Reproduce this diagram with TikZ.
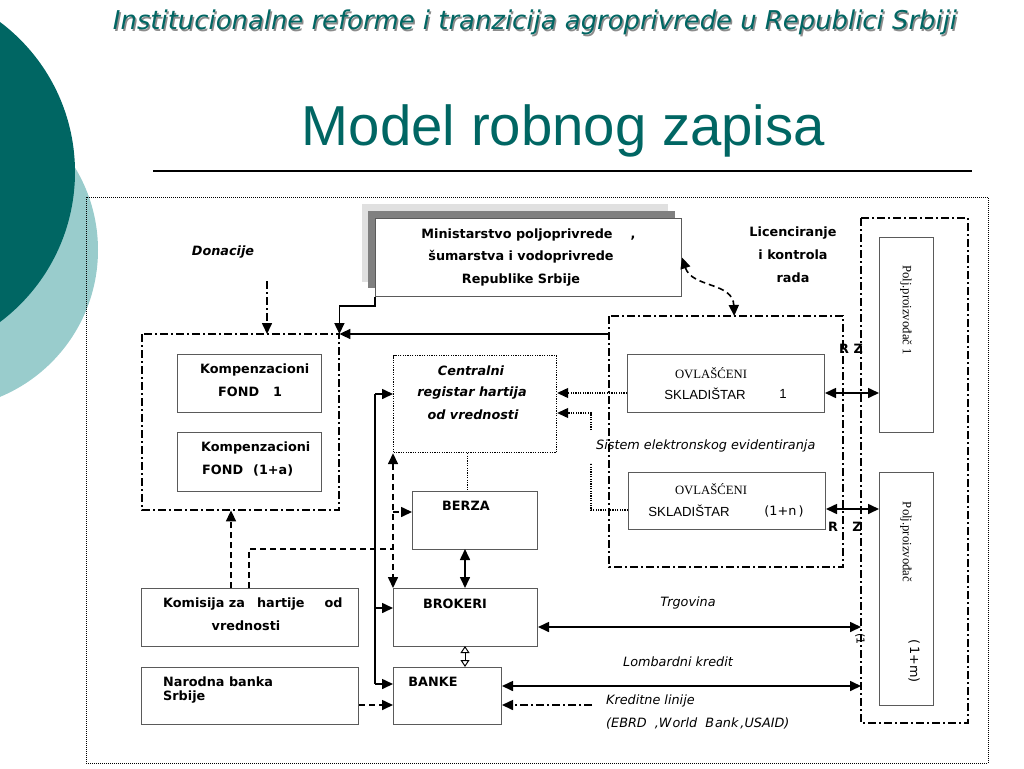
\documentclass[tikz,border=0pt]{standalone}
\usepackage{fontspec}
\setmainfont{DejaVu Sans}
\newfontfamily\serifF{Liberation Serif}
\newfontfamily\arialF{Liberation Sans}
\usetikzlibrary{arrows.meta,calc}
\definecolor{tealA}{RGB}{0,102,99}
\definecolor{tealB}{RGB}{153,204,204}
\definecolor{boxgray}{RGB}{90,90,90}
\tikzset{
 box/.style={draw=boxgray, line width=1pt, inner sep=0pt, anchor=north west, fill=white},
 bt/.style={font=\fontsize{12.8}{14}\selectfont\bfseries, inner sep=0pt},
 bit/.style={font=\fontsize{12.8}{14}\selectfont\bfseries\itshape, inner sep=0pt},
 it/.style={font=\fontsize{12.8}{14}\selectfont\itshape, inner sep=0pt},
 rg/.style={font=\fontsize{12.8}{14}\selectfont, inner sep=0pt},
 sf/.style={font=\fontsize{12.7}{14}\selectfont\serifF, inner sep=0pt},
 af/.style={font=\fontsize{13.2}{14}\selectfont\arialF, inner sep=0pt},
 sl/.style={line width=1.6pt},
 tip/.style={-{Triangle[length=11pt,width=10pt]}},
 tips/.style={{Triangle[length=11pt,width=10pt]}-{Triangle[length=11pt,width=10pt]}},
 otips/.style={{Triangle[open,length=7pt,width=9pt]}-{Triangle[open,length=7pt,width=9pt]}},
 dd/.style={line width=1.6pt, dash pattern=on 8pt off 3pt on 2pt off 3pt},
 dsh/.style={line width=1.6pt, dash pattern=on 6pt off 4pt},
 dt/.style={line width=1.2pt, dash pattern=on 1.2pt off 1.2pt},
}
\begin{document}
\begin{tikzpicture}[x=1pt,y=-1pt]
\useasboundingbox (0,0) rectangle (1024,768);
\begin{scope}
\clip (0,0) rectangle (1024,768);
\fill[tealB] (-61,250) circle[radius=159pt];
\fill[tealA] (-112.5,172) circle[radius=187.5pt];
\end{scope}
% header
\node[anchor=base, inner sep=0pt, text=black!45] at (536.5,31.5) {\resizebox{844pt}{!}{\fontsize{22}{24}\selectfont\itshape Institucionalne reforme i tranzicija agroprivrede u Republici Srbiji}};
\node[anchor=base, inner sep=0pt, text=tealA] (hdr) at (535,30) {\resizebox{844pt}{!}{\fontsize{22}{24}\selectfont\itshape Institucionalne reforme i tranzicija agroprivrede u Republici Srbiji}};
\node[anchor=base, inner sep=0pt, text=tealA] (ttl) at (563.5,145) {\resizebox{523pt}{!}{\fontsize{50}{54}\selectfont\arialF Model robnog zapisa}};
\draw[line width=1.5pt] (153,171) -- (972,171);
% outer frame
\draw[line width=0.9pt, dash pattern=on 1pt off 1pt] (86,197) rectangle (988,763);
% ministry
\fill[black!12] (362,204) rectangle (668,282);
\fill[black!50] (368,211) rectangle (675,288);
\node[box, minimum width=306pt, minimum height=78pt] (min) at (375,218) {};
\node[bt] at (517,235) {Ministarstvo poljoprivrede\rlap{\hspace{18pt},}};
\node[bt] at (521,257) {šumarstva i vodoprivrede};
\node[bt] at (521,280) {Republike Srbije};
% groups
\draw[dd] (142,334) rectangle (339,510);
\node[inner sep=0pt, minimum width=197pt, minimum height=176pt, anchor=north west] (kgrp) at (142,334) {};
\draw[dd] (609,316) rectangle (843,567);
\node[inner sep=0pt, minimum width=234pt, minimum height=251pt, anchor=north west] (sis) at (609,316) {};
\draw[dd] (861,218) rectangle (968,723);
\node[inner sep=0pt, minimum width=107pt, minimum height=505pt, anchor=north west] (rgrp) at (861,218) {};
% left boxes
\node[box, minimum width=144pt, minimum height=58pt] (kf1) at (177,354) {};
\node[bt, anchor=west] at (200,370) {Kompenzacioni};
\node[bt, anchor=west] at (218,392) {FOND\hspace{14pt}1};
\node[box, minimum width=144pt, minimum height=59pt] (kf2) at (177,432) {};
\node[bt, anchor=west] at (201,448) {Kompenzacioni};
\node[bt, anchor=west] at (202,470) {FOND\hspace{10pt}(1+a)};
\node[box, minimum width=217pt, minimum height=58pt] (kom) at (141,588) {};
\node[bt, anchor=west] at (163,604) {Komisija za\hspace{12pt}hartije\hspace{20pt}od};
\node[bt] at (246,626) {vrednosti};
\node[box, minimum width=217pt, minimum height=57pt] (nbs) at (141,667) {};
\node[bt, anchor=west] at (163,682) {Narodna banka};
\node[bt, anchor=west] at (163,697) {Srbije};
\node[bit] at (223,252) {Donacije};
% middle
\node[box, draw=black, dash pattern=on 1.2pt off 1.2pt, line width=1.2pt, minimum width=163pt, minimum height=97pt] (reg) at (393,355) {};
\node[bit] at (471,371) {Centralni};
\node[bit] at (472,393) {registar hartija};
\node[bit] at (473,415) {od vrednosti};
\node[box, minimum width=125pt, minimum height=58pt] (ber) at (412,491) {};
\node[bt] at (466,506) {BERZA};
\node[box, minimum width=144pt, minimum height=58pt] (brk) at (393,588) {};
\node[bt] at (455,604) {BROKERI};
\node[box, minimum width=108pt, minimum height=57pt] (ban) at (393,667) {};
\node[bt] at (433,682) {BANKE};
% right
\node[box, minimum width=197pt, minimum height=58pt] (sk1) at (627,354) {};
\node[sf] at (711,373) {OVLAŠĆENI};
\node[af] at (705,394) {SKLADIŠTAR};
\node[af] at (783,394) {1};
\node[box, minimum width=197pt, minimum height=57pt] (skn) at (628,472) {};
\node[sf] at (711,489) {OVLAŠĆENI};
\node[af] at (689,511) {SKLADIŠTAR};
\node[rg] at (784,511) {(1+n\,)};
\node[box, minimum width=54pt, minimum height=195pt] (p1) at (879,237) {};
\node[sf, rotate=-90] at (906,310) {Polj.proizvođač 1};
\node[box, minimum width=54pt, minimum height=233pt] (p2) at (879,472) {};
\node[sf, rotate=-90] at (906,542) {Polj.proizvođač};
\node[rg, rotate=-90] at (914,661) {(\,1+m)};
\node[bt] at (793,233) {Licenciranje};
\node[bt] at (793,255) {i kontrola};
\node[bt] at (793,278) {rada};
\node[bt] at (851,349) {R Z};
\node[bt] at (833,527) {R};
\node[bt] at (857,527) {Z};
\node[it, anchor=west] at (596,446) {Sistem elektronskog evidentiranja};
\node[it] at (688,603) {Trgovina};
\node[it] at (678,662) {Lombardni kredit};
\node[it, anchor=west] at (606,701) {Kreditne linije};
\node[it, anchor=west] at (606,723) {(EBRD\hspace{8pt},W\hspace{1pt}orld\hspace{8pt}B\hspace{1pt}ank\hspace{2pt},USAID)};
\node[rg, rotate=-90, font=\fontsize{11}{12}\selectfont] at (860,639) {(1};
% connectors
\draw[sl, tip] (min.south west) -- ++(0,9) -| (kgrp.north east);
\draw[sl, tip] ($(sis.north west)+(0,18)$) -- (kgrp.north east);
\coordinate (don) at (267,281);
\draw[dd, tip] (don) -- (don |- kgrp.north);
\coordinate (k1) at ($(kom.north west)+(90,0)$);
\draw[dsh, tip] (k1) -- (k1 |- kgrp.south);
\coordinate (k2) at ($(kom.north west)+(108,0)$);
\coordinate (k3) at (393,549);
\draw[dsh] (k2) |- (k3);
\draw[dsh, tips] (reg.south west) -- (brk.north west);
\coordinate (bz) at ($(ber.north west)+(0,21)$);
\draw[dsh, tip] (reg.south west |- bz) -- (bz);
\coordinate (vt) at (375,394);
\coordinate (vm) at (375,608);
\coordinate (vb) at (375,684);
\draw[sl] (vt) -- (vb);
\draw[sl, tip] (vt) -- (reg.west |- vt);
\draw[sl, tip] (vm) -- (brk.west |- vm);
\draw[sl, tip] (vb) -- (ban.west |- vb);
\coordinate (rb) at ($(reg.south)+(-8,0)$);
\draw[dt] (rb) -- (rb |- ber.north);
\coordinate (bb) at (465,549);
\draw[sl, tips] (bb) -- (bb |- brk.north);
\coordinate (bk) at (465,646);
\draw[line width=1pt, otips] (bk) -- (bk |- ban.north);
\coordinate (tg) at ($(brk.north east)+(0,39)$);
\draw[sl, tips] (tg) -- (rgrp.west |- tg);
\coordinate (lk) at ($(ban.north east)+(0,19)$);
\draw[sl, tips] (lk) -- (rgrp.west |- lk);
\coordinate (kl) at (592,705);
\draw[dd, tip] (kl) -- (ban.east |- kl);
\coordinate (nb) at ($(nbs.north east)+(0,38)$);
\draw[dsh, tip] (nb) -- (ban.west |- nb);
\coordinate (s1) at ($(sk1.north west)+(0,39)$);
\draw[dt, tip] (s1) -- (reg.east |- s1);
\coordinate (sn) at ($(skn.north west)+(0,38)$);
\draw[dt] (sn) -| (591,463);
\draw[dt, tip] (591,430) |- (reg.east |- 0,413);
\coordinate (r1) at ($(sk1.north east)+(0,39)$);
\draw[sl, tips] (r1) -- (p1.west |- r1);
\coordinate (r2) at ($(skn.north east)+(0,37)$);
\draw[sl, tips] (r2) -- (p2.west |- r2);
\coordinate (st) at ($(sis.north)+(8,0)$);
\draw[dsh, tips] (min.east) .. controls (692,288) and (733,282) .. (st);
\end{tikzpicture}
\end{document}
